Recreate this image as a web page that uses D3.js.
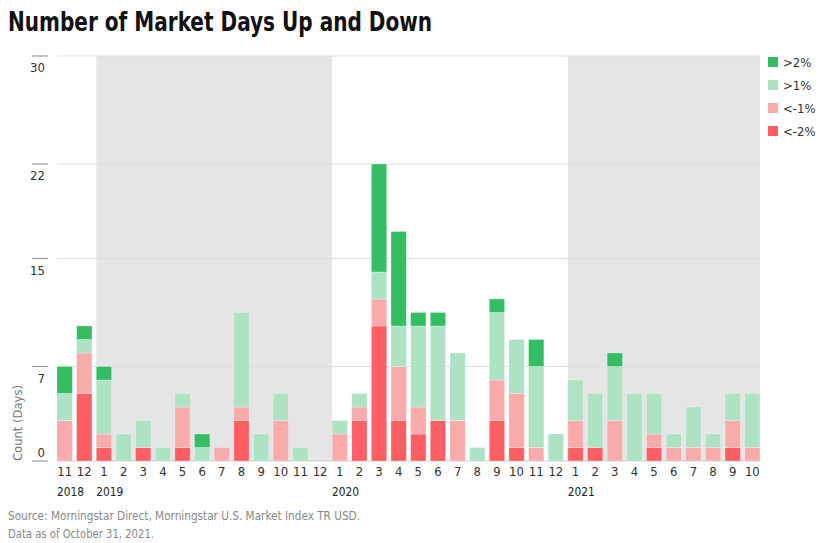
<!DOCTYPE html>
<html lang="en">
<head>
<meta charset="UTF-8">
<title>Number of Market Days Up and Down</title>
<script src="https://cdnjs.cloudflare.com/ajax/libs/d3/7.8.2/d3.min.js"></script>
<style>
    body { margin: 0; background: #fff; }
    svg { font-family: "DejaVu Sans Condensed", "Roboto", sans-serif; }
</style>
</head>
<body>
<div id="chart"></div>
<script>
    // months shown on the axis, with their year
    const months = [11, 12,
        1, 2, 3, 4, 5, 6, 7, 8, 9, 10, 11, 12,
        1, 2, 3, 4, 5, 6, 7, 8, 9, 10, 11, 12,
        1, 2, 3, 4, 5, 6, 7, 8, 9, 10];
    const years = [2018, 2018,
        2019, 2019, 2019, 2019, 2019, 2019, 2019, 2019, 2019, 2019, 2019, 2019,
        2020, 2020, 2020, 2020, 2020, 2020, 2020, 2020, 2020, 2020, 2020, 2020,
        2021, 2021, 2021, 2021, 2021, 2021, 2021, 2021, 2021, 2021];

    // days per month in each bucket
    const down2 = [0, 5, 1, 0, 1, 0, 1, 0, 0, 3, 0, 0, 0, 0, 0, 3, 10, 3, 2, 3, 0, 0, 3, 1, 0, 0, 1, 1, 0, 0, 1, 0, 0, 0, 1, 0];
    const down1 = [3, 3, 1, 0, 0, 0, 3, 0, 1, 1, 0, 3, 0, 0, 2, 1, 2, 4, 2, 0, 3, 0, 3, 4, 1, 0, 2, 0, 3, 0, 1, 1, 1, 1, 2, 1];
    const up1   = [2, 1, 4, 2, 2, 1, 1, 1, 0, 7, 2, 2, 1, 0, 1, 1, 2, 3, 6, 7, 5, 1, 5, 4, 6, 2, 3, 4, 4, 5, 3, 1, 3, 1, 2, 4];
    const up2   = [2, 1, 1, 0, 0, 0, 0, 1, 0, 0, 0, 0, 0, 0, 0, 0, 8, 7, 1, 1, 0, 0, 1, 0, 2, 0, 0, 0, 1, 0, 0, 0, 0, 0, 0, 0];

    const yTicks = [0, 7, 15, 22, 30];
    const shadedYears = [2019, 2021];

    const series = [
        { key: "down2", label: "<-2%", color: "#fd5f64" },
        { key: "down1", label: "<-1%", color: "#f9abab" },
        { key: "up1",   label: ">1%",  color: "#ade2c2" },
        { key: "up2",   label: ">2%",  color: "#35bd63" }
    ];

    const rows = months.map((m, i) => ({
        id: years[i] + "-" + m, month: m, year: years[i],
        down2: down2[i], down1: down1[i], up1: up1[i], up2: up2[i]
    }));

    const width = 823, height = 543;
    const plot = { left: 57, right: 760, top: 56, bottom: 461 };

    const svg = d3.select("#chart").append("svg")
        .attr("width", width)
        .attr("height", height);

    const x = d3.scaleBand()
        .domain(rows.map(d => d.id))
        .range([plot.left, plot.right])
        .paddingInner(0.22)
        .paddingOuter(0);

    const y = d3.scaleLinear()
        .domain([0, 30])
        .range([plot.bottom, plot.top]);

    // year shading
    svg.append("g")
        .selectAll("rect")
        .data(shadedYears)
        .enter()
        .append("rect")
        .attr("x", yr => x(yr + "-1"))
        .attr("y", plot.top)
        .attr("width", yr => Math.min(12 * x.step(), plot.right - x(yr + "-1")))
        .attr("height", plot.bottom - plot.top)
        .attr("fill", "#e5e5e5");

    // gridlines
    svg.append("g")
        .selectAll("line")
        .data(yTicks)
        .enter()
        .append("line")
        .attr("x1", plot.left)
        .attr("x2", plot.right)
        .attr("y1", d => y(d))
        .attr("y2", d => y(d))
        .attr("stroke", d => d === 0 ? "#cfcfcf" : "#dedede")
        .attr("stroke-width", 1);

    // y axis tick marks and labels
    const yAxis = svg.append("g");
    yAxis.selectAll("line")
        .data(yTicks)
        .enter()
        .append("line")
        .attr("x1", 32)
        .attr("x2", 48)
        .attr("y1", d => y(d))
        .attr("y2", d => y(d))
        .attr("stroke", "#999")
        .attr("stroke-width", 1.2);
    yAxis.selectAll("text")
        .data(yTicks)
        .enter()
        .append("text")
        .attr("x", 45)
        .attr("y", d => d === 0 ? y(d) - 4 : y(d) + 16)
        .attr("text-anchor", "end")
        .attr("font-size", "13px")
        .attr("fill", "#333")
        .text(d => d);

    svg.append("text")
        .attr("transform", `translate(22, ${plot.bottom}) rotate(-90)`)
        .attr("text-anchor", "start")
        .attr("font-size", "12px")
        .attr("fill", "#777")
        .attr("textLength", 76)
        .attr("lengthAdjust", "spacingAndGlyphs")
        .text("Count (Days)");

    // stacked bars
    const stack = d3.stack().keys(series.map(s => s.key));
    const stacked = stack(rows);

    svg.append("g")
        .selectAll("g")
        .data(stacked)
        .enter()
        .append("g")
        .attr("fill", (d, i) => series[i].color)
        .selectAll("rect")
        .data(d => d.filter(p => p[1] > p[0]))
        .enter()
        .append("rect")
        .attr("x", p => x(p.data.id))
        .attr("width", x.bandwidth())
        .attr("y", p => y(p[1]))
        .attr("height", p => y(p[0]) - y(p[1]))
        .attr("stroke", "rgba(255,255,255,0.35)")
        .attr("stroke-width", 0.8);

    // month labels
    svg.append("g")
        .selectAll("text")
        .data(rows)
        .enter()
        .append("text")
        .attr("x", d => x(d.id) + x.bandwidth() / 2)
        .attr("y", 476)
        .attr("text-anchor", "middle")
        .attr("font-size", "13px")
        .attr("fill", "#333")
        .text(d => d.month);

    // year labels at first month of each year
    const firstOfYear = rows.filter((d, i) => i === 0 || d.year !== rows[i - 1].year);
    svg.append("g")
        .selectAll("text")
        .data(firstOfYear)
        .enter()
        .append("text")
        .attr("x", d => x(d.id))
        .attr("y", 496)
        .attr("font-size", "13px")
        .attr("fill", "#222")
        .attr("textLength", 27)
        .attr("lengthAdjust", "spacingAndGlyphs")
        .text(d => d.year);

    // legend
    const legend = svg.append("g")
        .selectAll("g")
        .data(series.slice().reverse())
        .enter()
        .append("g")
        .attr("transform", (d, i) => `translate(768, ${57 + i * 23})`);
    legend.append("rect")
        .attr("width", 10)
        .attr("height", 10)
        .attr("fill", d => d.color);
    legend.append("text")
        .attr("x", 15)
        .attr("y", 10)
        .attr("font-size", "13px")
        .attr("fill", "#333")
        .text(d => d.label);

    // title
    svg.append("text")
        .attr("x", 8)
        .attr("y", 31)
        .attr("font-size", "27px")
        .attr("font-weight", "bold")
        .attr("fill", "#111")
        .attr("textLength", 424)
        .attr("lengthAdjust", "spacingAndGlyphs")
        .text("Number of Market Days Up and Down");

    // source
    svg.append("text")
        .attr("x", 8)
        .attr("y", 520)
        .attr("font-size", "13px")
        .attr("fill", "#888")
        .attr("textLength", 352)
        .attr("lengthAdjust", "spacingAndGlyphs")
        .text("Source: Morningstar Direct, Morningstar U.S. Market Index TR USD.");
    svg.append("text")
        .attr("x", 8)
        .attr("y", 538)
        .attr("font-size", "13px")
        .attr("fill", "#888")
        .attr("textLength", 146)
        .attr("lengthAdjust", "spacingAndGlyphs")
        .text("Data as of October 31, 2021.");
</script>
</body>
</html>
